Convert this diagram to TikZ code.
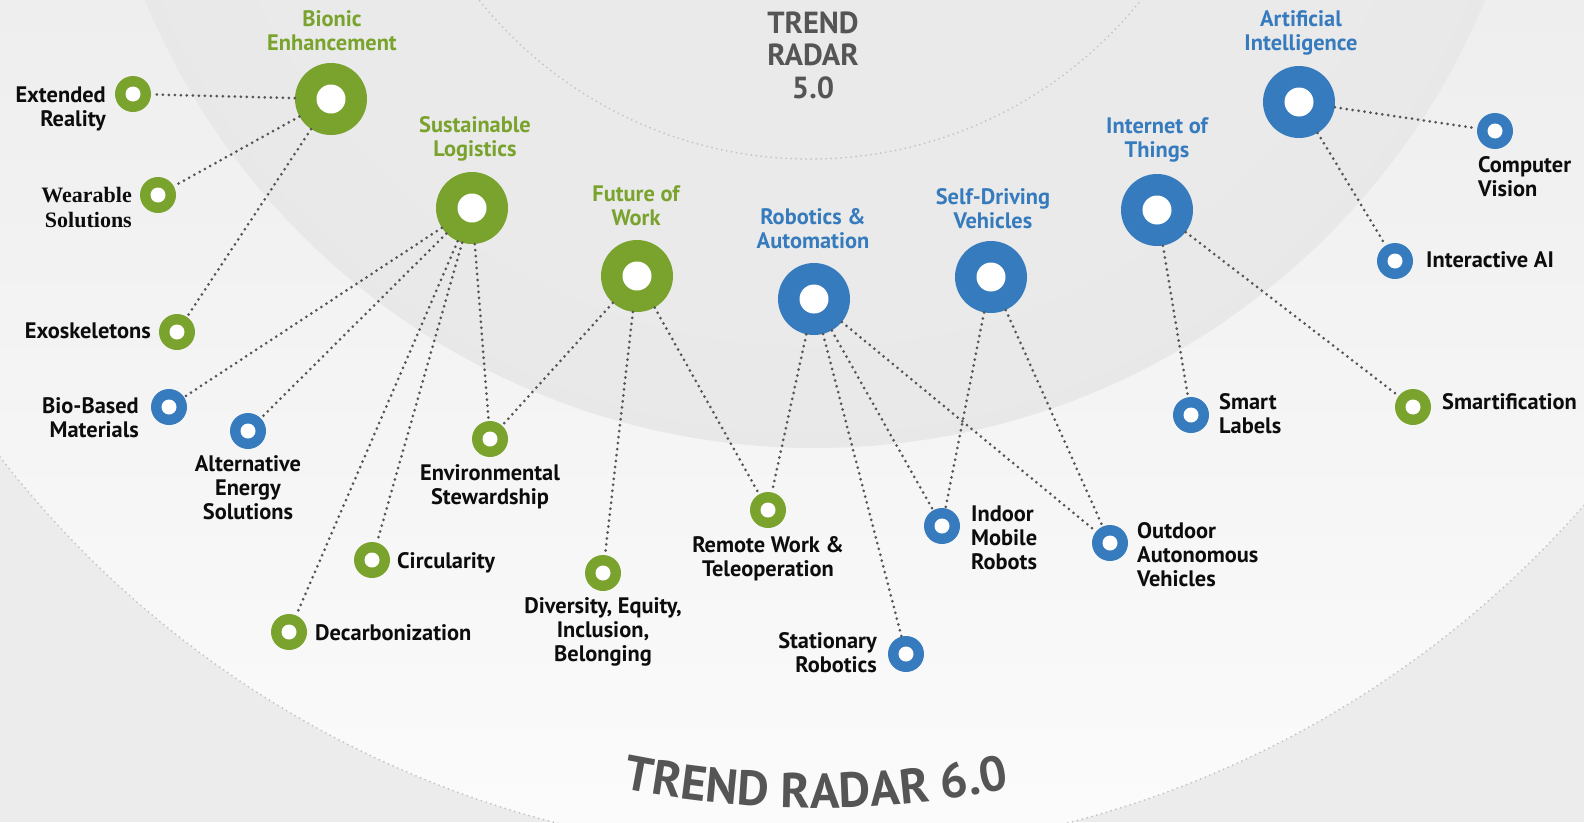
\documentclass[tikz,border=0pt]{standalone}
\usepackage{fontspec}
\setmainfont{PT Sans}
\newfontfamily\serifbold{Liberation Serif}
\usetikzlibrary{decorations.text}
\definecolor{tgreen}{HTML}{7AA32E}
\definecolor{tblue}{HTML}{367BBD}
\definecolor{tgrey}{HTML}{555555}
\definecolor{dotc}{HTML}{555555}
\definecolor{txt}{HTML}{0D0D0D}
\definecolor{bgout}{HTML}{ECECEC}
\definecolor{bgtop}{HTML}{EEEEEE}
\definecolor{bgmid}{HTML}{F0F0F0}
\definecolor{bgbot}{HTML}{FBFBFB}
\definecolor{diskin}{HTML}{EAEAEA}
\definecolor{diskout}{HTML}{E0E0E0}
\definecolor{ringdots}{HTML}{C4C4C4}
\pgfdeclareradialshading{diskshade}{\pgfpoint{0bp}{0bp}}{color(0bp)=(diskin); color(20bp)=(diskin); color(50bp)=(diskout); color(100bp)=(diskout)}
\begin{document}
\begin{tikzpicture}[x=1pt,y=-1pt,
  bignode/.style={circle, fill=#1, minimum size=72pt, inner sep=0pt,
    path picture={\fill[white] (path picture bounding box.center) circle[radius=14.5pt];}},
  smallnode/.style={circle, fill=#1, minimum size=36pt, inner sep=0pt,
    path picture={\fill[white] (path picture bounding box.center) circle[radius=7.5pt];}},
  conn/.style={draw=dotc, line width=3pt, line cap=round, dash pattern=on 0pt off 6pt},
  lab/.style={font=\fontsize{22.4}{24}\selectfont\bfseries, inner sep=0pt, text=txt},
  head/.style={font=\fontsize{22.4}{24}\selectfont\bfseries, inner sep=0pt, text=#1, align=center, anchor=base},
  ringline/.style={draw=ringdots, line width=2pt, line cap=round, dash pattern=on 0pt off 5pt}
]
\useasboundingbox (0,0) rectangle (1584,822);
\begin{scope}
  \clip (0,0) rectangle (1584,822);
  \fill[bgout] (0,0) rectangle (1584,822);
  \begin{scope}
    \clip (812,-172) circle (1027);
    \shade[top color=bgtop, middle color=bgmid, bottom color=bgbot] (0,0) rectangle (1584,822);
  \end{scope}
  \shade[shading=diskshade] (815,-277) circle (725);
  \draw[ringline] (810,-265) circle (424);
  \draw[ringline] (812,-172) circle (1027);
\end{scope}

% titles (anchor = baseline of the last line)
\node[inner sep=0pt, text=tgrey, align=center, anchor=base,
  font=\fontsize{30.5}{32.5}\selectfont\bfseries] (t5) at (813,98) {TREND\\RADAR\\5.0};
\path[decorate, decoration={text along path, text align=center,
  text={|\color{tgrey}\fontsize{49}{49}\selectfont\bfseries|TREND RADAR 6.0}}]
  (816,-172) ++(112:980) arc[start angle=112, end angle=68, radius=980];

% main trend nodes
\node[bignode=tgreen] (bio) at (331,99) {};
\node[bignode=tgreen] (sul) at (472,208) {};
\node[bignode=tgreen] (fow) at (637,276) {};
\node[bignode=tblue] (rob) at (814,299) {};
\node[bignode=tblue] (sdv) at (991,277) {};
\node[bignode=tblue] (iot) at (1157,210) {};
\node[bignode=tblue] (ai) at (1299,102) {};

\node[head=tgreen] (lbio) at (332,50) {Bionic\\Enhancement};
\node[head=tgreen] (lsul) at (475,156) {Sustainable\\Logistics};
\node[head=tgreen] (lfow) at (636,225) {Future of\\Work};
\node[head=tblue] (lrob) at (813,248) {Robotics \&\\Automation};
\node[head=tblue] (lsdv) at (993,228) {Self-Driving\\Vehicles};
\node[head=tblue] (liot) at (1157,157) {Internet of\\Things};
\node[head=tblue] (lai) at (1301,50) {Artificial\\Intelligence};

% sub trend nodes
\node[smallnode=tgreen] (er) at (133,94) {};
\node[smallnode=tgreen] (ws) at (158,195) {};
\node[smallnode=tgreen] (exo) at (177,332) {};
\node[smallnode=tblue] (bbm) at (169,407) {};
\node[smallnode=tblue] (aes) at (248,431) {};
\node[smallnode=tgreen] (env) at (490,439) {};
\node[smallnode=tgreen] (cir) at (372,560) {};
\node[smallnode=tgreen] (dec) at (289,632) {};
\node[smallnode=tgreen] (dei) at (603,573) {};
\node[smallnode=tgreen] (rwt) at (768,510) {};
\node[smallnode=tblue] (str) at (906,654) {};
\node[smallnode=tblue] (imr) at (942,526) {};
\node[smallnode=tblue] (oav) at (1110,543) {};
\node[smallnode=tblue] (sml) at (1191,415) {};
\node[smallnode=tgreen] (smf) at (1413,407) {};
\node[smallnode=tblue] (cvi) at (1495,131) {};
\node[smallnode=tblue] (iai) at (1395,261) {};

% sub trend labels (anchor = baseline of the last line)
\node[lab, align=right, anchor=base east] (ler) at (106,126) {Extended\\Reality};
\node[inner sep=0pt, text=txt, align=right, anchor=base east,
  font=\serifbold\fontsize{22}{25}\selectfont\bfseries] (lws) at (132,227) {Wearable\\Solutions};
\node[lab, anchor=base east] (lexo) at (151,338) {Exoskeletons};
\node[lab, align=right, anchor=base east] (lbbm) at (139,437) {Bio-Based\\Materials};
\node[lab, align=center, anchor=base] (laes) at (248,519) {Alternative\\Energy\\Solutions};
\node[lab, align=center, anchor=base] (lenv) at (490,504) {Environmental\\Stewardship};
\node[lab, anchor=base west] (lcir) at (397,568) {Circularity};
\node[lab, anchor=base west] (ldec) at (315,640) {Decarbonization};
\node[lab, align=center, anchor=base] (ldei) at (603,661) {Diversity, Equity,\\Inclusion,\\Belonging};
\node[lab, align=center, anchor=base] (lrwt) at (768,576) {Remote Work \&\\Teleoperation};
\node[lab, align=right, anchor=base east] (lstr) at (877,672) {Stationary\\Robotics};
\node[lab, align=left, anchor=base west] (limr) at (971,569) {Indoor\\Mobile\\Robots};
\node[lab, align=left, anchor=base west] (loav) at (1137,586) {Outdoor\\Autonomous\\Vehicles};
\node[lab, align=left, anchor=base west] (lsml) at (1219,433) {Smart\\Labels};
\node[lab, anchor=base west] (lsmf) at (1442,409) {Smartification};
\node[lab, align=left, anchor=base west] (lcvi) at (1478,196) {Computer\\Vision};
\node[lab, anchor=base west] (liai) at (1426,267) {Interactive AI};

% connectors
\draw[conn] (bio) -- (er);
\draw[conn] (bio) -- (ws);
\draw[conn] (bio) -- (exo);
\draw[conn] (sul) -- (bbm);
\draw[conn] (sul) -- (aes);
\draw[conn] (sul) -- (dec);
\draw[conn] (sul) -- (cir);
\draw[conn] (sul) -- (env);
\draw[conn] (fow) -- (env);
\draw[conn] (fow) -- (dei);
\draw[conn] (fow) -- (rwt);
\draw[conn] (rob) -- (rwt);
\draw[conn] (rob) -- (str);
\draw[conn] (rob) -- (imr);
\draw[conn] (rob) -- (oav);
\draw[conn] (sdv) -- (imr);
\draw[conn] (sdv) -- (oav);
\draw[conn] (iot) -- (sml);
\draw[conn] (iot) -- (smf);
\draw[conn] (ai) -- (cvi);
\draw[conn] (ai) -- (iai);
\end{tikzpicture}
\end{document}
